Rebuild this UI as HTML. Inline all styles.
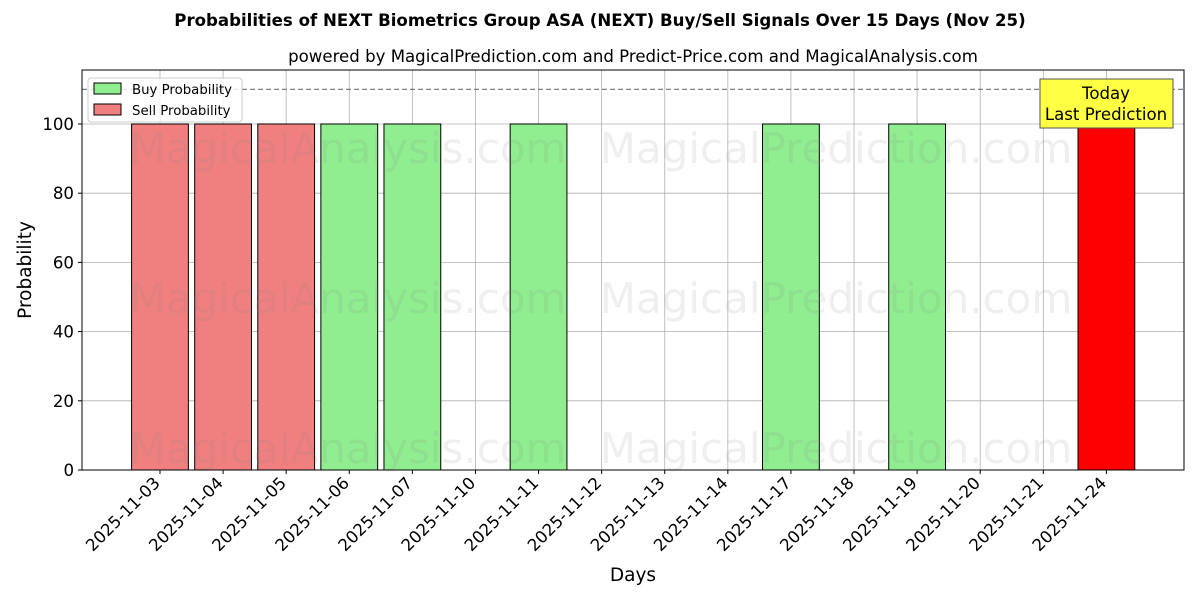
<!DOCTYPE html>
<html><head><meta charset="utf-8"><style>
body{margin:0;background:#fff;font-family:"Liberation Sans","DejaVu Sans",sans-serif;}
svg text{font-family:"DejaVu Sans","Liberation Sans",sans-serif;}
</style></head><body>
<svg id="c" width="1200" height="600" xmlns="http://www.w3.org/2000/svg"></svg>
<script>
const categories=["2025-11-03","2025-11-04","2025-11-05","2025-11-06","2025-11-07","2025-11-10","2025-11-11","2025-11-12","2025-11-13","2025-11-14","2025-11-17","2025-11-18","2025-11-19","2025-11-20","2025-11-21","2025-11-24"];
const buyValues=[0,0,0,100,100,0,100,0,0,0,100,0,100,0,0,0];
const sellValues=[100,100,100,0,0,0,0,0,0,0,0,0,0,0,0,100];
const yTicks=[0,20,40,60,80,100];
const todayIndex=15;
const thresholdValue=110;

const L=82,R=1184,T=70,B=470;
const xMin=-1.236,xMax=16.23,yMin=0,yMax=115.6;
const x=v=>L+(v-xMin)/(xMax-xMin)*(R-L);
const y=v=>B-(v-yMin)/(yMax-yMin)*(B-T);
const svg=document.getElementById('c');
const NS='http://www.w3.org/2000/svg';
function mk(tag,attrs,txt){const e=document.createElementNS(NS,tag);for(const k in attrs)e.setAttribute(k,attrs[k]);if(txt!==undefined)e.textContent=txt;svg.appendChild(e);return e;}

let e;
e=mk('text',{x:600,y:26,'text-anchor':'middle','font-size':16.6,'font-weight':'bold'},'Probabilities of NEXT Biometrics Group ASA (NEXT) Buy/Sell Signals Over 15 Days (Nov 25)');


e=mk('text',{x:633,y:62,'text-anchor':'middle','font-size':16.6},'powered by MagicalPrediction.com and Predict-Price.com and MagicalAnalysis.com');



yTicks.forEach(t=>{
  e=mk('line',{x1:L,x2:R,y1:y(t),y2:y(t),stroke:'#b0b0b0','stroke-width':0.8});
  
  
});
categories.forEach((c,i)=>{
  e=mk('line',{x1:x(i),x2:x(i),y1:T,y2:B,stroke:'#b0b0b0','stroke-width':0.8});
  
  
});

const bw=0.9;
categories.forEach((c,i)=>{
  if(sellValues[i]>0){
    e=mk('rect',{x:x(i-bw/2),y:y(sellValues[i]),width:x(i+bw/2)-x(i-bw/2),height:y(0)-y(sellValues[i]),fill:i===todayIndex?'#ff0000':'#f08080',stroke:'#000','stroke-width':1});
    
    
  }
  if(buyValues[i]>0){
    e=mk('rect',{x:x(i-bw/2),y:y(buyValues[i]),width:x(i+bw/2)-x(i-bw/2),height:y(0)-y(buyValues[i]),fill:'#90ee90',stroke:'#000','stroke-width':1});
    
    
  }
});

[[348,148,'MagicalAnalysis.com'],[836,148,'MagicalPrediction.com'],[348,298,'MagicalAnalysis.com'],[836,298,'MagicalPrediction.com'],[348,448,'MagicalAnalysis.com'],[836,448,'MagicalPrediction.com']].forEach(w=>{
  e=mk('text',{x:w[0],y:w[1]+15,'text-anchor':'middle','font-size':42,fill:'#808080','fill-opacity':0.13},w[2]);
  
  
});

e=mk('line',{x1:L,x2:R,y1:y(thresholdValue),y2:y(thresholdValue),stroke:'#808080','stroke-width':1.2,'stroke-dasharray':'5,3'});



e=mk('rect',{x:L,y:T,width:R-L,height:B-T,fill:'none',stroke:'#000','stroke-width':1});



yTicks.forEach(t=>{
  e=mk('line',{x1:L-4,x2:L,y1:y(t),y2:y(t),stroke:'#000'});
  
  
  e=mk('text',{x:L-8,y:y(t)+6,'text-anchor':'end','font-size':16.6},String(t));
  
  
});
categories.forEach((c,i)=>{
  e=mk('line',{x1:x(i),x2:x(i),y1:B,y2:B+4,stroke:'#000'});
  
  
  const ax=x(i)+1, ay=B+14;
  e=mk('text',{x:ax,y:ay,'text-anchor':'end','font-size':16.6,transform:`rotate(-45 ${ax} ${ay})`},c);
  
  
});

e=mk('text',{x:633,y:581,'text-anchor':'middle','font-size':18.5},'Days');


e=mk('text',{x:31,y:270,'text-anchor':'middle','font-size':18.5,transform:'rotate(-90 31 270)'},'Probability');



e=mk('rect',{x:1040,y:79,width:133,height:49,fill:'#ffff44',stroke:'#555','stroke-width':1});


e=mk('text',{x:1106,y:99,'text-anchor':'middle','font-size':16.6},'Today');


e=mk('text',{x:1106,y:120,'text-anchor':'middle','font-size':16.6},'Last Prediction');



e=mk('rect',{x:88,y:78,width:154,height:44,fill:'#fff','fill-opacity':0.8,stroke:'#ccc',rx:3});


e=mk('rect',{x:94,y:83,width:27,height:11,fill:'#90ee90',stroke:'#000'});


e=mk('text',{x:132,y:94,'font-size':13.3},'Buy Probability');


e=mk('rect',{x:94,y:104,width:27,height:11,fill:'#f08080',stroke:'#000'});


e=mk('text',{x:132,y:115,'font-size':13.3},'Sell Probability');


</script>
</body></html>
